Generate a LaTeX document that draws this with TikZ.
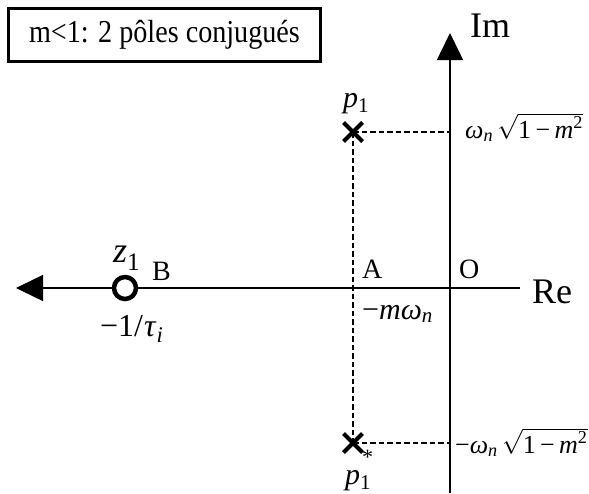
\documentclass[tikz,border=0pt]{standalone}
\usepackage{fontspec}
\setmainfont{Liberation Serif}
\usetikzlibrary{arrows.meta,shapes.misc}
\newcommand{\fsz}[1]{\fontsize{#1}{#1}\selectfont}
\newcommand{\wsq}{\textit{ω}\textsubscript{\textit{n}}\,$\sqrt{\mbox{1\,−\,\textit{m}\textsuperscript{2}}}$}
\begin{document}
\begin{tikzpicture}[x=1pt,y=-1pt,
  axisline/.style={line width=1.5pt},
  axisarrow/.style={-{Triangle[length=27pt,width=26pt]}},
  dashline/.style={dashed,dash pattern=on 5.5pt off 3pt,line width=1.3pt},
  polemark/.style={cross out,draw,line width=4pt,minimum size=15pt,inner sep=0pt},
  zeromark/.style={circle,draw,line width=4.5pt,minimum size=22pt,inner sep=0pt},
  lbl/.style={anchor=base west,inner sep=0pt}]
\useasboundingbox (0,0) rectangle (589,493);
% title box
\node[draw,line width=3pt,minimum width=312pt,minimum height=53pt,inner sep=0pt,font=\fsz{32}] (title) at (164.5,35) {\scalebox{0.88}[1]{m<1: 2 pôles conjugués}};
% key points
\coordinate (O) at (450,288);
\coordinate (reE) at (520,288);
\coordinate (reW) at (16,288);
\coordinate (imS) at (450,493);
\coordinate (imN) at (450,33);
% axes
\draw[axisline,axisarrow] (reE) -- (reW);
\draw[axisline,axisarrow] (imS) -- (imN);
% poles and zero
\node[polemark] (p1) at (353,132) {};
\node[polemark] (p1s) at (353,443) {};
\node[zeromark,fill=white] (z1) at (125,288) {};
% dashed guides
\draw[dashline] (p1.center) -- (p1s.center);
\draw[dashline] (p1.center) -- (p1.center -| O);
\draw[dashline] (p1s.center) -- (p1s.center -| O);
% labels
\node[lbl,font=\fsz{36}] (im) at (470,37) {Im};
\node[lbl,font=\fsz{36}] (re) at (532,303) {Re};
\node[lbl,font=\fsz{28}] (lA) at (362,278) {A};
\node[lbl,font=\fsz{28}] (lO) at (459,278) {O};
\node[lbl,font=\fsz{28}] (lB) at (152,280) {B};
\node[lbl,font=\fsz{36}] (lz) at (113,262) {\textit{z}\textsubscript{1}};
\node[lbl,font=\fsz{32}] (ltau) at (100,336) {−1/\kern1pt\textit{τ}\textsubscript{\textit{i}}};
\node[lbl,font=\fsz{30}] (lmw) at (362,319) {−\textit{mω}\textsubscript{\textit{n}}};
\node[lbl,font=\fsz{30}] (lp1) at (343,107) {\textit{p}\textsubscript{1}};
\node[lbl,font=\fsz{30}] (lp1s) at (345,484) {\textit{p}\textsubscript{1}};
\node[lbl,font=\fsz{22}] (star) at (362,464) {*};
\node[lbl,font=\fsz{26}] (lw) at (465,138) {\wsq};
\node[lbl,font=\fsz{26}] (lmw2) at (455,453) {−\wsq};
\end{tikzpicture}
\end{document}
